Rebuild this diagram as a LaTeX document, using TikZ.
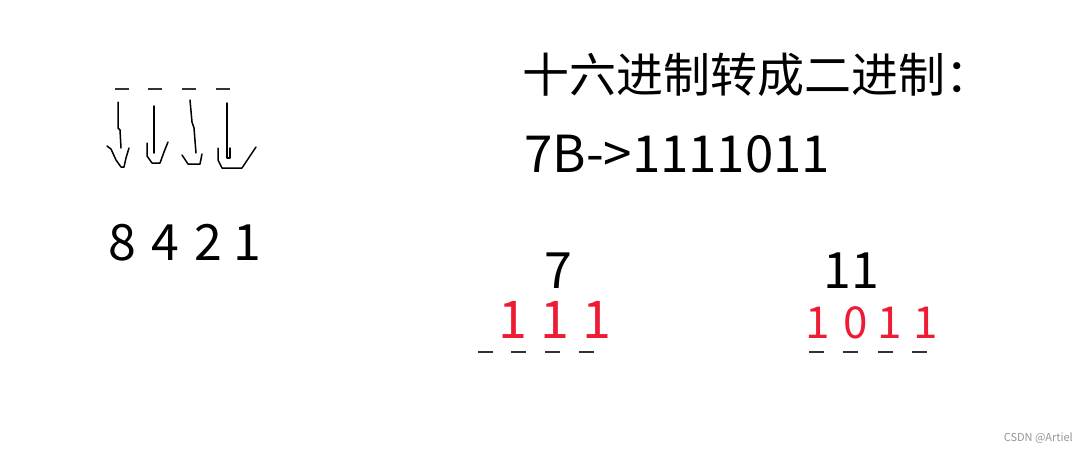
\documentclass[tikz,border=0pt]{standalone}
\usepackage{fontspec}
\newfontfamily\cjk{Noto Sans CJK SC}
\definecolor{redd}{RGB}{237,28,52}
\definecolor{wm}{RGB}{150,150,150}
\begin{document}
\begin{tikzpicture}[x=1pt,y=-1pt,
  txt/.style={inner sep=0pt,anchor=base,font=\cjk\fontsize{50}{60}\selectfont},
  redtxt/.style={txt,text=redd},
  bar/.style={line width=2.8pt,draw=black!80},
  hand/.style={line width=1.5pt,line join=round,line cap=round}]
\useasboundingbox (0,0) rectangle (1088,451);
% left underscores
\foreach \x/\n in {115/a,148/b,182/c,216/d}{
  \coordinate (u\n1) at (\x,89); \coordinate (u\n2) at (\x+14,89);
  \draw[bar] (u\n1) -- (u\n2);}
% hand-drawn arrows
\draw[hand] (118,102) -- (118,128) -- (120,130) -- (121,148);
\draw[hand] (107,146) -- (111,149) -- (116,160) -- (121,167) -- (124,167) -- (126,158) -- (129,148);
\draw[hand] (154,106) -- (154,153);
\draw[hand] (147,143) -- (147,156) -- (152,163) -- (160,163) -- (164,152) -- (168,142);
\draw[hand] (190,100) -- (192,122) -- (194,128) -- (196,153);
\draw[hand] (182,155) -- (188,164) -- (200,164) -- (202,154);
\draw[hand] (227,103) -- (227,158) -- (230,158) -- (230,148);
\draw[hand] (218,148) -- (218,160) -- (222,168) -- (242,168) -- (250,156) -- (256,147);
% 8 4 2 1
\node[txt] (n8) at (122,260) {8};
\node[txt] (n4) at (165,260) {4};
\node[txt] (n2) at (208,260) {2};
\node[txt] (n1) at (247,260) {1};
% title
\node[inner sep=0pt,anchor=base west,font=\cjk\fontsize{47}{56}\selectfont] (title) at (522,92) {十六进制转成二进制：};
\node[inner sep=0pt,anchor=base west,font=\cjk\fontsize{51}{60}\selectfont] (ex) at (524,172) {7B->1111011};
% 7 and 11
\node[txt] (seven) at (558,288) {7};
\node[txt] (eleven) at (851,288) {11};
% red bits
\node[redtxt,font=\cjk\fontsize{52}{60}\selectfont] (r1) at (513,338) {1};
\node[redtxt,font=\cjk\fontsize{52}{60}\selectfont] (r2) at (555,338) {1};
\node[redtxt,font=\cjk\fontsize{52}{60}\selectfont] (r3) at (597,338) {1};
\node[redtxt,font=\cjk\fontsize{44}{52}\selectfont] (s1) at (818,338) {1};
\node[redtxt,font=\cjk\fontsize{44}{52}\selectfont] (s2) at (856,338) {0};
\node[redtxt,font=\cjk\fontsize{44}{52}\selectfont] (s3) at (890,338) {1};
\node[redtxt,font=\cjk\fontsize{44}{52}\selectfont] (s4) at (926,338) {1};
% lower underscores
\foreach \x/\n in {478/e,511/f,545/g,579/h,809/i,843/j,878/k,912/l}{
  \coordinate (v\n1) at (\x,352); \coordinate (v\n2) at (\x+15,352);
  \draw[bar] (v\n1) -- (v\n2);}
% watermark
\node[inner sep=0pt,anchor=base east,text=wm,font=\cjk\fontsize{11}{13}\selectfont] (wmk) at (1073,441) {CSDN @Artiel};
\end{tikzpicture}
\end{document}
